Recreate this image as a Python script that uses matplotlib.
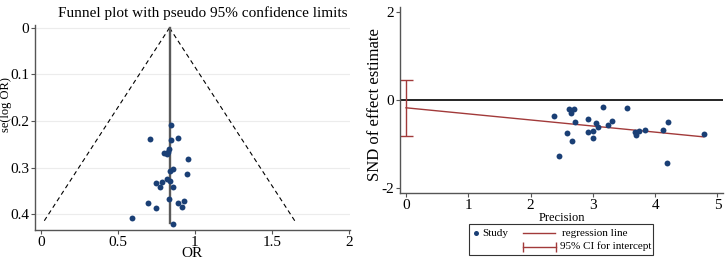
import numpy as np
import matplotlib
matplotlib.use("Agg")
import matplotlib.pyplot as plt
from matplotlib.lines import Line2D
from matplotlib.patches import Rectangle

plt.rcParams["font.family"] = ["Liberation Serif", "DejaVu Serif"]

# funnel plot data (OR vs se(log OR))
or_vals = [0.845, 0.708, 0.890, 0.842, 0.834, 0.801, 0.816, 0.826, 0.952,
           0.860, 0.838, 0.946, 0.816, 0.840, 0.747, 0.786, 0.775, 0.855,
           0.829, 0.927, 0.695, 0.890, 0.918, 0.747, 0.590, 0.857]
se_vals = [0.209, 0.238, 0.236, 0.241, 0.260, 0.269, 0.271, 0.266, 0.281,
           0.303, 0.307, 0.313, 0.325, 0.328, 0.333, 0.331, 0.341, 0.342,
           0.368, 0.371, 0.376, 0.376, 0.384, 0.387, 0.408, 0.421]
pooled_or = 0.835
se_max = 0.42

# Egger's test data (precision vs standard normal deviate)
precision = [2.37, 2.61, 2.69, 2.65, 2.71, 2.58, 2.66, 2.45, 2.92, 2.93,
             3.00, 3.01, 3.05, 3.08, 3.17, 3.25, 3.30, 3.55, 3.68, 3.70,
             3.74, 3.84, 4.13, 4.20, 4.19, 4.78]
snd = [-0.36, -0.20, -0.20, -0.30, -0.49, -0.74, -0.94, -1.27, -0.44, -0.73,
       -0.86, -0.71, -0.53, -0.61, -0.16, -0.57, -0.48, -0.17, -0.72, -0.80,
       -0.71, -0.68, -0.68, -0.49, -1.43, -0.78]
intercept = -0.175
slope = -0.1385
ci_low, ci_high = -0.814, 0.456

navy = "#1a3f75"
maroon = "#a23a3a"
axcol = "#555555"

W, H = 727, 259
fig = plt.figure(figsize=(W / 100, H / 100), dpi=100)


def fx(px):
    return px / W


def fy(py):
    return 1 - py / H


def style_axes(ax):
    for s in ["top", "right"]:
        ax.spines[s].set_visible(False)
    for s in ["left", "bottom"]:
        ax.spines[s].set_color(axcol)
        ax.spines[s].set_linewidth(1.0)
    ax.tick_params(direction="out", length=3, width=0.8, color=axcol,
                   labelsize=11, pad=1)


# ---- left: funnel plot
ax1 = fig.add_axes([fx(35), fy(230), 315 / W, 205 / H])
style_axes(ax1)
se_line = np.array([0, se_max])
ax1.plot(pooled_or - 1.96 * se_line, se_line, color="black", lw=0.8,
         ls=(0, (4, 3)))
ax1.plot(pooled_or + 1.96 * se_line, se_line, color="black", lw=0.8,
         ls=(0, (4, 3)))
ax1.plot([pooled_or, pooled_or], [0, se_max], color="#5a5a5a", lw=1.7)
ax1.scatter(or_vals, se_vals, s=18, color=navy, zorder=3, linewidths=0)
ax1.set_xlim(-0.037, 2.005)
ax1.set_ylim(0.434, -0.006)
ax1.set_xticks([0, 0.5, 1, 1.5, 2])
ax1.set_xticklabels(["0", "0.5", "1", "1.5", "2"])
ax1.set_yticks([0, 0.1, 0.2, 0.3, 0.4])
ax1.set_yticklabels(["0", "0.1", "0.2", "0.3", "0.4"])
ax1.yaxis.grid(True, color="#ececec", lw=0.8)
ax1.set_axisbelow(True)
ax1.set_xlabel("OR", fontsize=11, labelpad=-1)
ax1.set_ylabel("se(log OR)", fontsize=9)
ax1.yaxis.set_label_coords(-0.073, 0.61)
fig.text(fx(203), fy(13), "Funnel plot with pseudo 95% confidence limits",
         ha="center", va="center", fontsize=11)

# ---- right: Egger regression
ax2 = fig.add_axes([fx(400), fy(193), 323 / W, 186 / H])
style_axes(ax2)
ax2.axhline(0, color="black", lw=1.2)
xr = np.array([0, max(precision)])
ax2.plot(xr, intercept + slope * xr, color=maroon, lw=1.0)
ax2.errorbar([0], [(ci_low + ci_high) / 2], yerr=[[(ci_high - ci_low) / 2]],
             color=maroon, lw=1.0, capsize=5, capthick=1.0, fmt="none")
ax2.scatter(precision, snd, s=18, color=navy, zorder=3, linewidths=0)
ax2.set_xlim(-0.096, 5.09)
ax2.set_ylim(-2.115, 2.12)
ax2.set_xticks([0, 1, 2, 3, 4, 5])
ax2.set_yticks([-2, 0, 2])
ax2.set_yticklabels(["-2", "0", "2"])
ax2.set_xlabel("Precision", fontsize=9, labelpad=0)
ax2.set_ylabel("SND of effect estimate", fontsize=12)
ax2.yaxis.set_label_coords(-0.053, 0.478)

# ---- legend box (Stata style, drawn in figure pixels)
fig.add_artist(Rectangle((fx(469), fy(255)), 184 / W, 31 / H,
                         transform=fig.transFigure, fill=False,
                         edgecolor="#333333", lw=0.8))
fig.add_artist(Line2D([fx(476)], [fy(233)], transform=fig.transFigure,
                      ls="none", marker="o", ms=3.6, mew=0, color=navy))
fig.text(fx(482), fy(233), "Study", fontsize=8, va="center", ha="left")
fig.add_artist(Line2D([fx(523), fx(555)], [fy(233), fy(233)],
                      transform=fig.transFigure, color=maroon, lw=1.0))
fig.text(fx(562), fy(233), "regression line", fontsize=8, va="center",
         ha="left")
fig.add_artist(Line2D([fx(523), fx(556)], [fy(246.5), fy(246.5)],
                      transform=fig.transFigure, color=maroon, lw=1.0,
                      marker="|", ms=7, mew=1.0))
fig.text(fx(560), fy(246.5), "95% CI for intercept", fontsize=8,
         va="center", ha="left")

fig.savefig("out.png", dpi=100)
